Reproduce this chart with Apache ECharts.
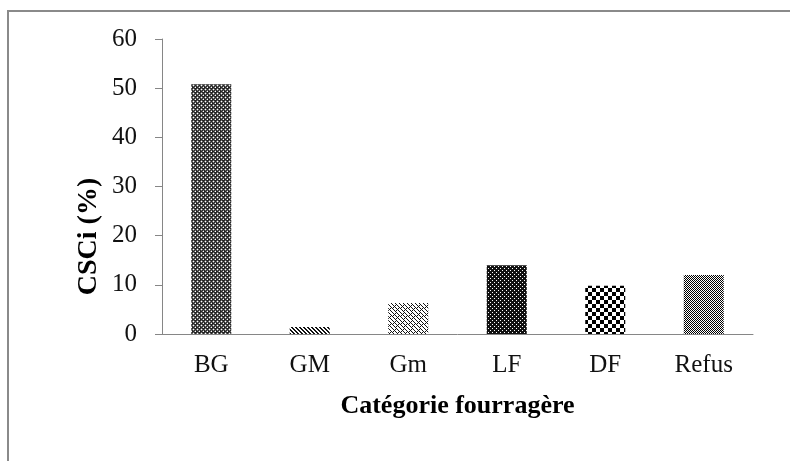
<!DOCTYPE html>
<html>
<head>
<meta charset="utf-8">
<script src="https://cdn.jsdelivr.net/npm/echarts@6/dist/echarts.min.js"></script>
<style>
  html, body { margin: 0; padding: 0; background: #fff; }
  #chart { width: 790px; height: 461px; }
</style>
</head>
<body>
<div id="chart"></div>
<script>
const categories = ["BG", "GM", "Gm", "LF", "DF", "Refus"];
const csciValues = [50.8, 1.4, 6.3, 14.0, 9.8, 12.0];
const yTicks = [0, 10, 20, 30, 40, 50, 60];

const font = "'Liberation Serif', 'Times New Roman', serif";
const axisGray = "#868686";

// small tiled fills, drawn pixel by pixel like the Excel patterns
const makeTile = (size, bg, fg, cells, extra) => {
  const c = document.createElement("canvas");
  c.width = size;
  c.height = size;
  const ctx = c.getContext("2d");
  ctx.fillStyle = bg;
  ctx.fillRect(0, 0, size, size);
  ctx.fillStyle = fg;
  cells.forEach(([x, y]) => ctx.fillRect(x, y, 1, 1));
  if (extra) {
    ctx.fillStyle = extra.color;
    extra.cells.forEach(([x, y]) => ctx.fillRect(x, y, 1, 1));
  }
  return { image: c, repeat: "repeat" };
};

const cellsFrom = (rows) => {
  const out = [];
  rows.forEach((row, y) => {
    row.split("").forEach((ch, x) => {
      if (ch === "#") out.push([x, y]);
    });
  });
  return out;
};

const patterns = [
  // BG: dark grey with small white crosses
  makeTile(4, "#262626", "#ffffff", cellsFrom([
    "....",
    ".#..",
    "....",
    "...#",
  ]), { color: "#6e6e6e", cells: cellsFrom([
    ".#..",
    "#.#.",
    ".#.#",
    "..#.",
  ]) }),
  // GM: diagonal stripes
  makeTile(4, "#ffffff", "#111111", cellsFrom([
    "##..",
    ".##.",
    "..##",
    "#..#",
  ])),
  // Gm: zigzag weave
  makeTile(8, "#ffffff", "#111111", cellsFrom([
    "#...#...",
    ".#.#.#..",
    "..#...#.",
    ".#.#...#",
    "#...#.#.",
    ".#...#..",
    "..#.#.#.",
    "...#...#",
  ])),
  // LF: black with white dots
  makeTile(4, "#ffffff", "#111111", cellsFrom([
    ".###",
    "####",
    "##.#",
    "####",
  ])),
  // DF: large checkerboard
  makeTile(8, "#ffffff", "#000000", cellsFrom([
    "####....",
    "####....",
    "####....",
    "####....",
    "....####",
    "....####",
    "....####",
    "....####",
  ])),
  // Refus: small checkerboard
  makeTile(2, "#ffffff", "#000000", cellsFrom([
    "#.",
    ".#",
  ])),
];

const chart = echarts.init(document.getElementById("chart"), null, { renderer: "canvas" });

chart.setOption({
  animation: false,
  backgroundColor: "#ffffff",
  graphic: [{
    type: "rect",
    shape: { x: 8, y: 11, width: 800, height: 470 },
    style: { fill: "none", stroke: "#8a8a8a", lineWidth: 2 },
    silent: true,
  }],
  grid: { left: 162, right: 37, top: 39, bottom: 127 },
  xAxis: {
    type: "category",
    data: categories,
    name: "Catégorie fourragère",
    nameLocation: "middle",
    nameGap: 59,
    nameMoveOverlap: false,
    nameTextStyle: { fontFamily: font, fontSize: 26, fontWeight: "bold", color: "#000" },
    axisLine: { lineStyle: { color: axisGray, width: 1 } },
    axisTick: { length: 8, lineStyle: { color: axisGray } },
    axisLabel: { fontFamily: font, fontSize: 25, color: "#111", margin: 19, interval: 0 },
  },
  yAxis: {
    type: "value",
    min: yTicks[0],
    max: yTicks[yTicks.length - 1],
    interval: 10,
    name: "CSCi (%)",
    nameLocation: "middle",
    nameRotate: 90,
    nameGap: 59,
    nameMoveOverlap: false,
    nameTextStyle: {
      fontFamily: font, fontSize: 28, fontWeight: "bold", color: "#000",
      padding: [0, 100, 0, 0],
    },
    splitLine: { show: false },
    axisLine: { show: true, lineStyle: { color: axisGray, width: 1 } },
    axisTick: { show: true, length: 7, lineStyle: { color: axisGray } },
    axisLabel: { fontFamily: font, fontSize: 25, color: "#111", margin: 25 },
  },
  series: [{
    type: "bar",
    barWidth: 40,
    data: csciValues.map((v, i) => ({ value: v, itemStyle: { color: patterns[i] } })),
  }],
});
</script>
</body>
</html>
